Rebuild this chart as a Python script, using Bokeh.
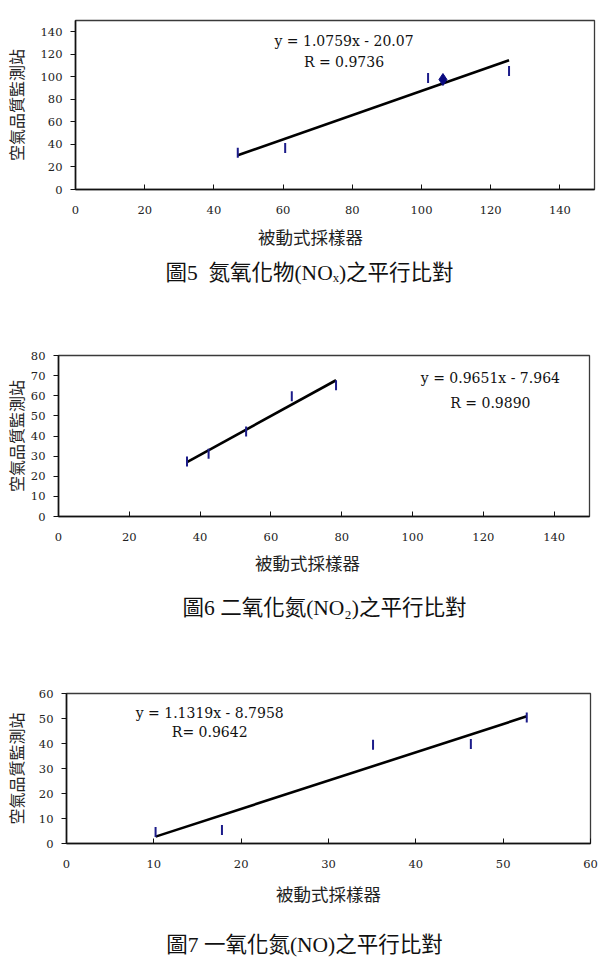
import math

from bokeh.core.properties import value
from bokeh.embed import file_html
from bokeh.layouts import column
from bokeh.models import FixedTicker, Label, Range1d
from bokeh.plotting import figure
from bokeh.resources import INLINE

# ---- data: passive sampler (x) vs. air-quality monitoring station (y) ----
# Fig. 5  NOx
nox_passive = [46.9, 60.6, 101.9, 106.2, 125.3]
nox_station = [32.7, 36.9, 99.0, 97.6, 105.2]
nox_slope, nox_icpt, nox_r = 1.0759, -20.07, 0.9736

# Fig. 6  NO2
no2_passive = [36.3, 42.4, 53.0, 65.9, 78.4]
no2_station = [27.3, 31.2, 42.2, 59.8, 65.2]
no2_slope, no2_icpt, no2_r = 0.9651, -7.964, 0.9890

# Fig. 7  NO
no_passive = [10.2, 17.8, 35.1, 46.3, 52.7]
no_station = [4.6, 5.4, 39.5, 39.8, 50.4]
no_slope, no_icpt, no_r = 1.1319, -8.7958, 0.9642

ticks_0_140 = [0, 20, 40, 60, 80, 100, 120, 140]
ticks_0_80 = [0, 10, 20, 30, 40, 50, 60, 70, 80]
ticks_0_60 = [0, 10, 20, 30, 40, 50, 60]

x_title = "被動式採樣器"
y_title = "空氣品質監測站"
captions = [
    "圖5\u00a0\u00a0氮氧化物(NOₓ)之平行比對",
    "圖6\u00a0二氧化氮(NO₂)之平行比對",
    "圖7\u00a0一氧化氮(NO)之平行比對",
]

NAVY = "#1c1c8a"
TICK_FONT = "DejaVu Serif"
CJK_FONT = "Noto Sans CJK TC"
CAPTION_FONT = "Liberation Serif, DejaVu Serif, Noto Sans CJK TC"


def eq_text(slope, icpt):
    sign = "-" if icpt < 0 else "+"
    return f"y = {slope:.4f}x {sign} {abs(icpt):g}"


def scatter_chart(height, borders, xr, yr, xticks, yticks, xs, ys,
                  slope, icpt, r_text, eq_pos, r_pos,
                  y_standoff, ylabel_standoff, diamond_idx=None):
    top, bottom, left, right = borders
    p = figure(width=600, height=height,
               x_range=Range1d(*xr), y_range=Range1d(*yr),
               output_backend="svg", toolbar_location=None,
               min_border_top=top, min_border_bottom=bottom,
               min_border_left=left, min_border_right=right,
               frame_align=False)
    p.grid.visible = False
    p.background_fill_color = "white"
    p.border_fill_color = "white"
    p.outline_line_color = "#3a3a3a"
    p.outline_line_width = 1.3

    xa = p.xaxis[0]
    xa.ticker = FixedTicker(ticks=xticks)
    xa.major_tick_in = 5
    xa.major_tick_out = 0
    xa.minor_tick_line_color = None
    xa.axis_line_color = "#111111"
    xa.axis_line_width = 1.6
    xa.major_tick_line_color = "#111111"
    xa.major_label_standoff = 16
    xa.major_label_text_font = TICK_FONT
    xa.major_label_text_font_size = "11.5px"
    xa.major_label_text_color = "#222222"

    ya = p.yaxis[0]
    ya.ticker = FixedTicker(ticks=yticks)
    ya.major_tick_in = 0
    ya.major_tick_out = 5
    ya.minor_tick_line_color = None
    ya.axis_line_color = "#111111"
    ya.axis_line_width = 1.6
    ya.major_tick_line_color = "#111111"
    ya.major_label_standoff = y_standoff
    ya.major_label_text_font = TICK_FONT
    ya.major_label_text_font_size = "11.5px"
    ya.major_label_text_color = "#222222"
    ya.axis_label = y_title
    ya.axis_label_text_font = CJK_FONT
    ya.axis_label_text_font_size = "16px"
    ya.axis_label_text_font_style = "normal"
    ya.axis_label_text_color = "#222222"
    ya.axis_label_standoff = ylabel_standoff

    # linear trend line over the sampled range
    x0, x1 = min(xs), max(xs)
    p.line([x0, x1], [slope * x0 + icpt, slope * x1 + icpt],
           line_color="black", line_width=2.6)

    dash_x = [x for i, x in enumerate(xs) if i != diamond_idx]
    dash_y = [y for i, y in enumerate(ys) if i != diamond_idx]
    p.scatter(dash_x, dash_y, marker="dash", angle=math.pi / 2, size=10,
              line_color=NAVY, line_width=2)
    if diamond_idx is not None:
        p.scatter([xs[diamond_idx]], [ys[diamond_idx]], marker="diamond",
                  size=12, fill_color="#0a0a80", line_color="#0a0a80")

    for txt, (lx, ly) in ((eq_text(slope, icpt), eq_pos), (r_text, r_pos)):
        p.add_layout(Label(x=lx, y=ly, text=txt, text_font=TICK_FONT,
                           text_font_size="14px", text_align="center",
                           text_baseline="middle", text_color="#111111"))
    return p


def caption_block(height, title_x, title_y, cap_x, cap_y, caption):
    p = figure(width=600, height=height,
               x_range=Range1d(0, 600), y_range=Range1d(height, 0),
               output_backend="svg", toolbar_location=None, min_border=0,
               frame_align=False)
    p.axis.visible = False
    p.grid.visible = False
    p.outline_line_color = None
    p.text(x=[title_x], y=[title_y], text=[x_title],
           text_font=value(CJK_FONT), text_font_size="17.5px",
           text_align="center", text_baseline="middle", text_color="#222222")
    p.text(x=[cap_x], y=[cap_y], text=[caption],
           text_font=value(CAPTION_FONT), text_font_size="21.5px",
           text_align="center", text_baseline="middle", text_color="#111111")
    return p


fig5 = scatter_chart(222, (20, 33, 75, 6), (0, 150), (0, 150),
                     ticks_0_140, ticks_0_140, nox_passive, nox_station,
                     nox_slope, nox_icpt, f"R = {nox_r:.4f}",
                     (77.6, 131.5), (77.6, 113.0), 8, 10, diamond_idx=3)
cap5 = caption_block(78, 310, 14, 309, 50, captions[0])

fig6 = scatter_chart(250, (55, 34, 58, 11), (0, 150), (0, 80),
                     ticks_0_140, ticks_0_80, no2_passive, no2_station,
                     no2_slope, no2_icpt, f"R = {no2_r:.4f}",
                     (122.0, 68.6), (122.0, 56.5), 8, 0)
cap6 = caption_block(90, 307, 12, 324, 57, captions[1])

fig7 = scatter_chart(237, (53, 34, 66, 10), (0, 60), (0, 60),
                     ticks_0_60, ticks_0_60, no_passive, no_station,
                     no_slope, no_icpt, f"R= {no_r:.4f}",
                     (16.4, 52.3), (16.4, 44.7), 8, 8)
cap7 = caption_block(91, 328, 16, 304, 67, captions[2])

page = column(fig5, cap5, fig6, cap6, fig7, cap7, spacing=0)

open("out.html", "w").write(file_html(page, INLINE))
